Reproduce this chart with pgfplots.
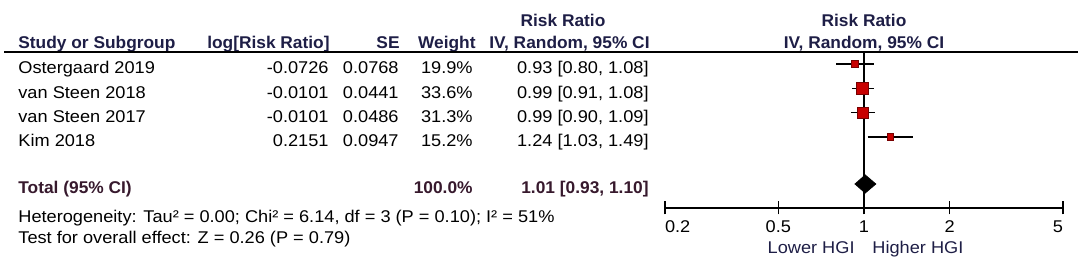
\documentclass[border=0pt]{standalone}
\usepackage{pgfplots}
\pgfplotsset{compat=1.18}
\usepackage{fontspec}
\setmainfont{Liberation Sans}[FakeStretch=1.07]
\newfontfamily\hdfont{Liberation Sans}[FakeStretch=1.02]
\definecolor{hdr}{RGB}{30,30,70}
\definecolor{tot}{RGB}{55,25,45}
\definecolor{sqfill}{RGB}{200,0,0}
\definecolor{sqdraw}{RGB}{120,0,0}
\begin{document}
\begin{tikzpicture}[x=0.5pt,y=-0.5pt,font=\fontsize{8.5}{10}\selectfont,
  hd/.style={inner sep=0pt,text=hdr,font=\fontsize{8.5}{10}\selectfont\hdfont\bfseries},
  tt/.style={inner sep=0pt,text=tot,font=\fontsize{8.5}{10}\selectfont\hdfont\bfseries}]
\path[use as bounding box] (0,0) rectangle (1084,266);
% header
\node[anchor=base,hd] at (563,27) {Risk Ratio};
\node[anchor=base,hd] at (864,27) {Risk Ratio};
\node[anchor=base west,hd] at (18,49) {Study or Subgroup};
\node[anchor=base east,hd] at (330,49) {log[Risk Ratio]};
\node[anchor=base east,hd] at (400,49) {SE};
\node[anchor=base east,hd] at (476,49) {Weight};
\node[anchor=base east,hd] at (650,49) {IV, Random, 95\% CI};
\node[anchor=base,hd] at (864,49) {IV, Random, 95\% CI};
\draw[line width=1pt] (4,52.5) -- (1078,52.5);
% rows
\foreach \yy/\nm/\lg/\se/\w/\ci in {
  74/Ostergaard 2019/-0.0726/0.0768/19.9/{0.93 [0.80, 1.08]},
  98.5/van Steen 2018/-0.0101/0.0441/33.6/{0.99 [0.91, 1.08]},
  122.5/van Steen 2017/-0.0101/0.0486/31.3/{0.99 [0.90, 1.09]},
  147/Kim 2018/0.2151/0.0947/15.2/{1.24 [1.03, 1.49]}} {
  \node[anchor=base west,inner sep=0pt] at (18,\yy) {\nm};
  \node[anchor=base east,inner sep=0pt] at (329,\yy) {\lg};
  \node[anchor=base east,inner sep=0pt] at (399,\yy) {\se};
  \node[anchor=base east,inner sep=0pt] at (473,\yy) {\w\%};
  \node[anchor=base east,inner sep=0pt] at (649,\yy) {\ci};
}
\node[anchor=base west,tt] at (18,194) {Total (95\% CI)};
\node[anchor=base east,tt] at (473,194) {100.0\%};
\node[anchor=base east,tt] at (649,194) {1.01 [0.93, 1.10]};
\node[anchor=base west,inner sep=0pt] at (18,223) {Heterogeneity: Tau² = 0.00; Chi² = 6.14, df = 3 (P = 0.10); I² = 51\%};
\node[anchor=base west,inner sep=0pt] at (18,244) {Test for overall effect: Z = 0.26 (P = 0.79)};
\node[anchor=base east,inner sep=0pt,text=hdr] at (855,254) {Lower HGI};
\node[anchor=base west,inner sep=0pt,text=hdr] at (872,254) {Higher HGI};
\begin{axis}[
  at={(332.5pt,-104pt)}, anchor=south west,
  scale only axis, width=199pt, height=78pt,
  xmode=log, xmin=0.2, xmax=5, ymin=-208, ymax=-52,
  axis x line*=bottom, axis y line=none,
  x axis line style={-, line width=0.75pt},
  xtick={0.2,0.5,1,2,5},
  xticklabels={\makebox[0pt][l]{0.2},0.5,1,2,\makebox[0pt][r]{5}},
  minor xtick={}, xminorticks=false,
  major tick length=6.5pt, tick align=center,
  tick style={black, line width=0.75pt},
  xticklabel style={anchor=north, inner sep=0pt, yshift=-3pt, font=\fontsize{8.5}{10}\selectfont},
  clip=false,
]
\addplot[black, line width=0.75pt] coordinates {(1,-52) (1,-208)};
% CIs
\addplot[black, line width=0.75pt] coordinates {(0.80,-64) (1.08,-64)};
\addplot[black, line width=0.75pt] coordinates {(0.91,-88.5) (1.08,-88.5)};
\addplot[black, line width=0.75pt] coordinates {(0.90,-112.5) (1.09,-112.5)};
\addplot[black, line width=0.75pt] coordinates {(1.03,-137) (1.49,-137)};
% squares
\addplot[only marks, mark=square*, mark size=1.75pt, mark options={fill=sqfill, draw=sqdraw, line width=0.4pt}] coordinates {(0.93,-64)};
\addplot[only marks, mark=square*, mark size=3pt, mark options={fill=sqfill, draw=sqdraw, line width=0.4pt}] coordinates {(0.99,-88.5)};
\addplot[only marks, mark=square*, mark size=2.75pt, mark options={fill=sqfill, draw=sqdraw, line width=0.4pt}] coordinates {(0.99,-112.5)};
\addplot[only marks, mark=square*, mark size=1.6pt, mark options={fill=sqfill, draw=sqdraw, line width=0.4pt}] coordinates {(1.24,-137)};
% diamond
\addplot[fill=black, draw=black] coordinates {(0.93,-184) (1.01,-175) (1.10,-184) (1.01,-193)} -- cycle;
\end{axis}
\end{tikzpicture}
\end{document}
